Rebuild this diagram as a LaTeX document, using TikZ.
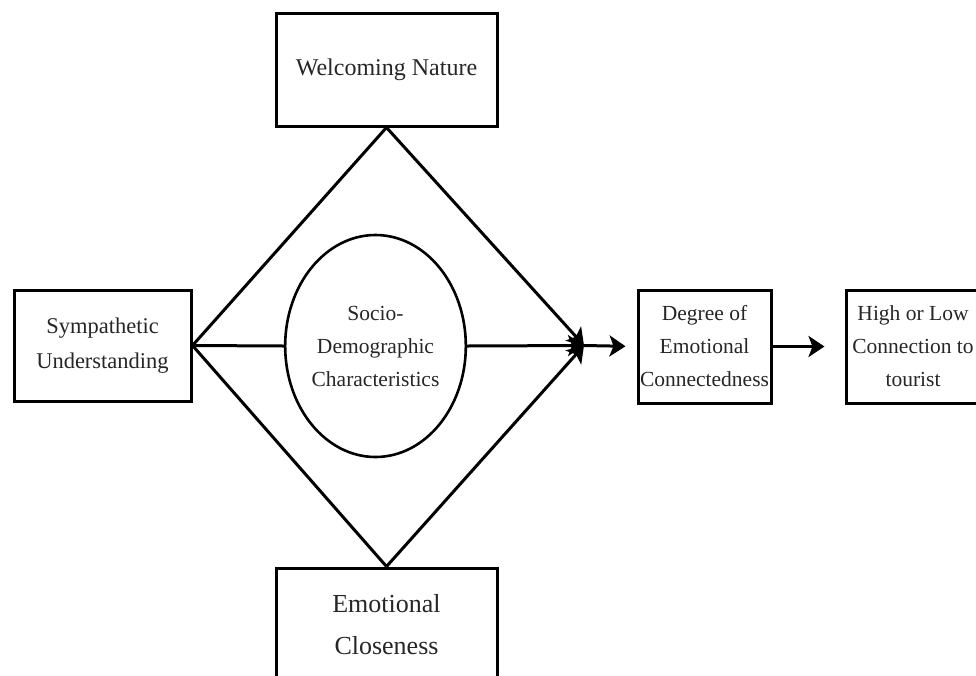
\documentclass[tikz,border=0pt]{standalone}
\usepackage{fontspec}
\setmainfont{Liberation Serif}
\usetikzlibrary{shapes.geometric,arrows.meta}
\begin{document}
\begin{tikzpicture}[x=1pt,y=-1pt,
  box/.style={draw=black,line width=3pt,rectangle,inner sep=0pt,align=center,text=black!85},
  oval/.style={draw=black,line width=2.6pt,ellipse,inner sep=0pt,align=center,text=black!85},
  link/.style={line width=3pt},
  arr/.style={line width=3pt,-{Stealth[length=16pt,width=21pt,inset=4pt]}}]
\useasboundingbox (0,0) rectangle (976,675);
\node[box,minimum width=221pt,minimum height=113pt,font=\fontsize{24}{30}\selectfont] (wel) at (386.5,69.5) {Welcoming Nature};
\node[box,minimum width=221pt,minimum height=113pt,font=\fontsize{26}{42}\selectfont] (emo) at (386.5,624.5) {Emotional\\Closeness};
\node[box,minimum width=177pt,minimum height=111pt,font=\fontsize{22.5}{35}\selectfont] (sym) at (102.5,345.5) {Sympathetic\\Understanding};
\node[oval,minimum width=177pt,minimum height=222pt,font=\fontsize{21.5}{33}\selectfont] (ell) at (375.5,346) {Socio-\\Demographic\\Characteristics};
\node[box,minimum width=133pt,minimum height=113pt,font=\fontsize{21.5}{33}\selectfont] (deg) at (704.5,346.5) {Degree of\\Emotional\\Connectedness};
\node[box,minimum width=134pt,minimum height=113pt,font=\fontsize{21.5}{33}\selectfont] (high) at (913,346.5) {High or Low\\Connection to\\tourist};
\coordinate (R) at (584,345.5);
\draw[link] (sym.east) -- (wel.south);
\draw[link] (sym.east) -- (emo.north);
\draw[link] (sym.east) -- (ell.west);
\draw[arr] (wel.south) -- (R);
\draw[arr] (emo.north) -- (R);
\draw[arr] (ell.east) -- (R);
\draw[arr,shorten >=11pt] (R) -- (deg.west);
\draw[arr,shorten >=20pt] (deg.east) -- (high.west);
\end{tikzpicture}
\end{document}
